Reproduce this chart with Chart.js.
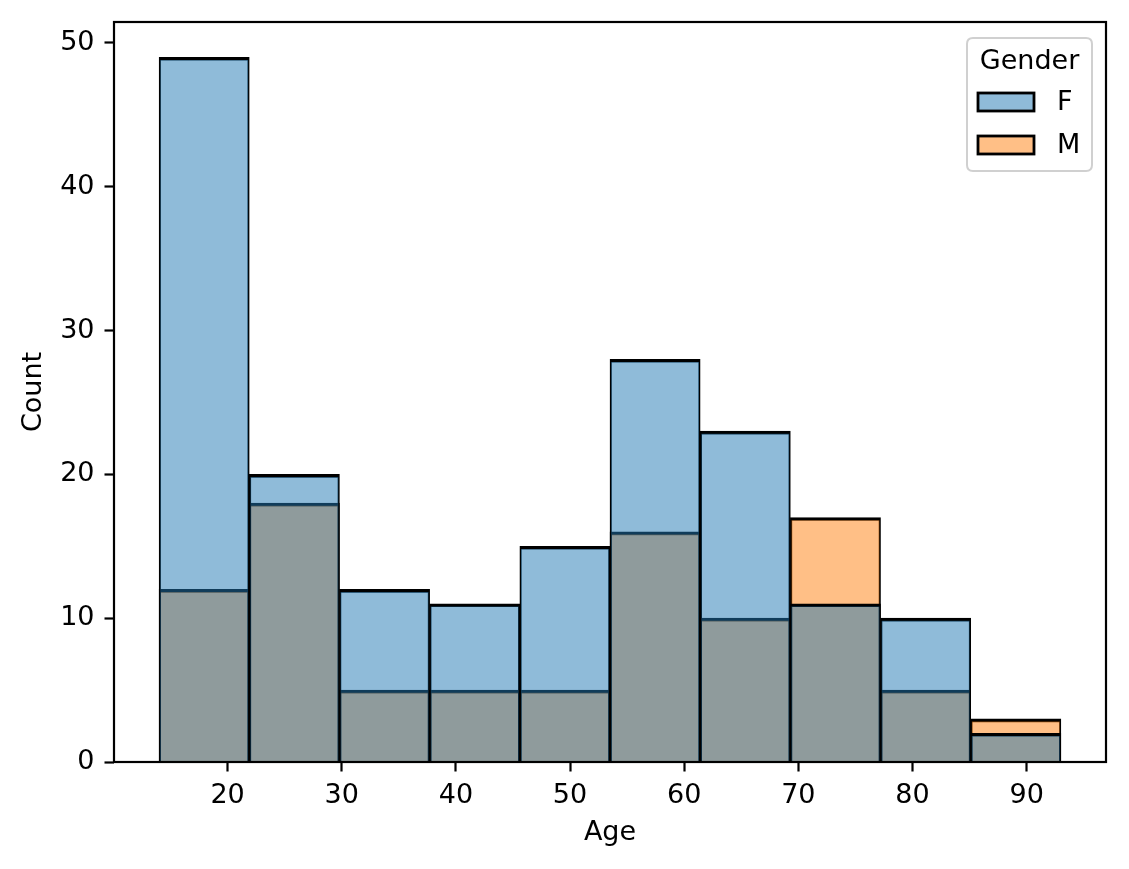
<!DOCTYPE html>
<html>
<head>
<meta charset="utf-8">
<script src="https://cdn.jsdelivr.net/npm/chart.js@4.4.1/dist/chart.umd.min.js"></script>
<style>
    html, body { margin: 0; padding: 0; background: #ffffff; }
    #wrap { width: 1129px; height: 869px; }
</style>
</head>
<body>
<div id="wrap"><canvas id="hist"></canvas></div>
<script>
// bin edges (Age) and counts per gender
const binEdges = [14, 21.9, 29.8, 37.7, 45.6, 53.5, 61.4, 69.3, 77.2, 85.1, 93];
const countF = [49, 20, 12, 11, 15, 28, 23, 11, 10, 2];
const countM = [12, 18, 5, 5, 5, 16, 10, 17, 5, 3];
const genders = ["F", "M"];
const xTicks = [20, 30, 40, 50, 60, 70, 80, 90];
const yTicks = [0, 10, 20, 30, 40, 50];

const FONT = "'DejaVu Sans', sans-serif";
const FS = 27;

function toPoints(counts) {
    return counts.map((c, i) => ({ x: (binEdges[i] + binEdges[i + 1]) / 2, y: c }));
}

// half edge on each side so neighbours add up to one matplotlib edge
const barBorder = { top: 3, left: 1.5, right: 1.5, bottom: 0 };

// frame on all four sides, drawn over the bars like matplotlib spines
const framePlugin = {
    id: "frame",
    afterDatasetsDraw(chart) {
        const a = chart.chartArea;
        const ctx = chart.ctx;
        ctx.save();
        ctx.strokeStyle = "#000";
        ctx.lineWidth = 2.2;
        ctx.strokeRect(a.left, a.top, a.right - a.left, a.bottom - a.top);
        ctx.restore();
    }
};

function roundRect(ctx, x, y, w, h, r) {
    ctx.beginPath();
    ctx.moveTo(x + r, y);
    ctx.lineTo(x + w - r, y);
    ctx.quadraticCurveTo(x + w, y, x + w, y + r);
    ctx.lineTo(x + w, y + h - r);
    ctx.quadraticCurveTo(x + w, y + h, x + w - r, y + h);
    ctx.lineTo(x + r, y + h);
    ctx.quadraticCurveTo(x, y + h, x, y + h - r);
    ctx.lineTo(x, y + r);
    ctx.quadraticCurveTo(x, y, x + r, y);
    ctx.closePath();
}

// legend box in the top right corner, like seaborn's
const legendPlugin = {
    id: "genderLegend",
    afterDraw(chart) {
        const ctx = chart.ctx;
        const bx = 967, by = 38, bw = 125, bh = 133;
        ctx.save();
        roundRect(ctx, bx, by, bw, bh, 6);
        ctx.fillStyle = "rgba(255,255,255,0.8)";
        ctx.fill();
        ctx.strokeStyle = "#d0d0d0";
        ctx.lineWidth = 2;
        ctx.stroke();

        ctx.fillStyle = "#000";
        ctx.font = FS + "px " + FONT;
        ctx.textAlign = "center";
        ctx.textBaseline = "middle";
        ctx.fillText("Gender", bx + bw / 2, 62);

        chart.data.datasets.forEach((ds, i) => {
            const cy = 102 + i * 43;
            ctx.fillStyle = "#ffffff";
            ctx.fillRect(978, cy - 9, 56, 18);
            ctx.fillStyle = ds.backgroundColor;
            ctx.fillRect(978, cy - 9, 56, 18);
            ctx.strokeStyle = "#000";
            ctx.lineWidth = 2.8;
            ctx.strokeRect(978, cy - 9, 56, 18);
            ctx.fillStyle = "#000";
            ctx.textAlign = "left";
            ctx.fillText(ds.label, 1057, cy + 1);
        });
        ctx.restore();
    }
};

document.addEventListener("DOMContentLoaded", function () {

    const histCanvas = document.querySelector("#hist");

    new Chart(histCanvas, {
        type: "bar",
        data: {
            datasets: [{
                label: genders[0],
                data: toPoints(countF),
                backgroundColor: "rgba(31, 119, 180, 0.5)",
                borderColor: "#000000",
                borderWidth: barBorder,
                borderSkipped: false,
            }, {
                label: genders[1],
                data: toPoints(countM),
                backgroundColor: "rgba(255, 127, 14, 0.5)",
                borderColor: "#000000",
                borderWidth: barBorder,
                borderSkipped: false,
            }],
        },
        options: {
            responsive: true,
            maintainAspectRatio: false,
            animation: false,
            grouped: false,
            barPercentage: 1,
            categoryPercentage: 1,
            layout: {
                padding: { left: 0, top: 22, right: 23, bottom: 0 },
            },
            scales: {
                x: {
                    type: "linear",
                    offset: false,
                    min: 10.05,
                    max: 96.95,
                    afterBuildTicks: (scale) => { scale.ticks = xTicks.map(v => ({ value: v })); },
                    afterFit: (scale) => {
                        scale.height = 107;
                        scale.paddingLeft = 0;
                        scale.paddingRight = 0;
                    },
                    grid: {
                        display: true,
                        offset: false,
                        drawOnChartArea: false,
                        tickLength: 9.5,
                        tickWidth: 2.2,
                        tickColor: "#000",
                    },
                    border: { display: false },
                    ticks: {
                        color: "#000",
                        padding: 8,
                        maxRotation: 0,
                        font: { family: FONT, size: FS },
                    },
                    title: {
                        display: true,
                        text: "Age",
                        color: "#000",
                        font: { family: FONT, size: FS },
                        padding: { top: 0, bottom: 20 },
                    },
                },
                y: {
                    min: 0,
                    max: 51.45,
                    afterBuildTicks: (scale) => { scale.ticks = yTicks.map(v => ({ value: v })); },
                    afterFit: (scale) => {
                        scale.width = 114;
                        scale.paddingTop = 0;
                        scale.paddingBottom = 0;
                    },
                    grid: {
                        display: true,
                        drawOnChartArea: false,
                        tickLength: 9.5,
                        tickWidth: 2.2,
                        tickColor: "#000",
                    },
                    border: { display: false },
                    ticks: {
                        color: "#000",
                        padding: 10,
                        font: { family: FONT, size: FS },
                    },
                    title: {
                        display: true,
                        text: "Count",
                        color: "#000",
                        font: { family: FONT, size: FS },
                        padding: { top: 18, bottom: 0 },
                    },
                },
            },
            plugins: {
                legend: { display: false },
                tooltip: { enabled: false },
            },
        },
        plugins: [framePlugin, legendPlugin],
    });
});
</script>
</body>
</html>
